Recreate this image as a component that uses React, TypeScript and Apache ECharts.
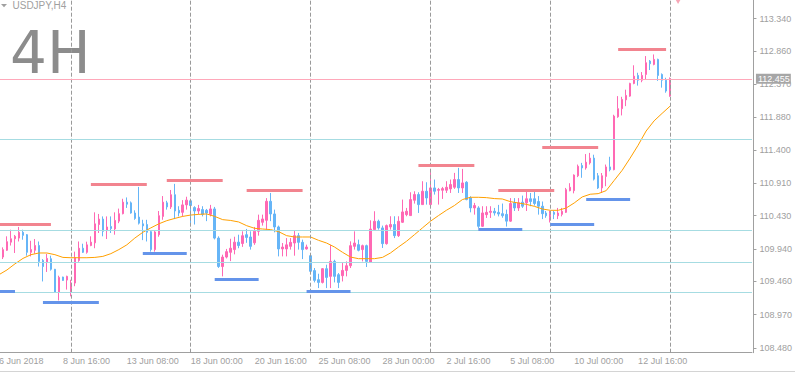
import { useEffect, useRef } from 'react';
import * as echarts from 'echarts';

// ---------- data ----------
const chartTitle = 'USDJPY,H4';
const periodBadge = '4H';
const monthNames = ['Jan', 'Feb', 'Mar', 'Apr', 'May', 'Jun', 'Jul', 'Aug', 'Sep', 'Oct', 'Nov', 'Dec'];
const firstDayUTC = Date.UTC(2018, 5, 6);
const firstYear = 2018;
const barHours = ['00', '04', '08', '12', '16', '20'];
const categoryCount = 189; // bar slots (incl. empty future slots)
const labelStep = 16;

// [open, high, low, close]
const candleOHLC: number[][] = [
  [109.92, 110.0, 109.8, 109.83],
  [109.82, 109.963, 109.791, 109.929],
  [109.92, 110.126, 109.91, 110.047],
  [110.04, 110.224, 109.99, 110.09],
  [110.09, 110.146, 109.88, 110.126],
  [110.1, 110.264, 110.05, 110.185],
  [110.185, 110.224, 110.076, 110.14],
  [110.15, 110.16, 109.84, 109.89],
  [109.89, 110.06, 109.83, 109.93],
  [109.92, 110.086, 109.87, 109.99],
  [109.99, 110.05, 109.68, 109.756],
  [109.77, 109.79, 109.46, 109.68],
  [109.74, 109.865, 109.6, 109.8],
  [109.795, 109.84, 109.62, 109.64],
  [109.64, 109.645, 109.29, 109.3],
  [109.3, 109.545, 109.18, 109.52],
  [109.525, 109.53, 109.47, 109.475],
  [109.48, 109.545, 109.34, 109.535],
  [109.3, 109.485, 109.24, 109.435],
  [109.436, 109.9, 109.39, 109.81],
  [109.77, 110.05, 109.75, 109.95],
  [109.95, 110.017, 109.88, 109.89],
  [109.89, 110.047, 109.87, 110.0],
  [109.99, 110.126, 109.98, 110.04],
  [110.03, 110.48, 109.95, 110.31],
  [110.3, 110.456, 110.175, 110.38],
  [110.38, 110.42, 110.126, 110.2],
  [110.21, 110.42, 110.086, 110.264],
  [110.27, 110.42, 110.175, 110.24],
  [110.235, 110.48, 110.15, 110.36],
  [110.35, 110.535, 110.32, 110.46],
  [110.46, 110.68, 110.45, 110.63],
  [110.63, 110.7, 110.545, 110.6],
  [110.62, 110.64, 110.46, 110.47],
  [110.47, 110.51, 110.37, 110.39],
  [110.41, 110.855, 110.3, 110.32],
  [110.31, 110.37, 110.07, 110.28],
  [110.3, 110.37, 110.05, 110.185],
  [110.195, 110.21, 109.9, 109.93],
  [109.93, 110.21, 109.9, 110.19],
  [110.15, 110.5, 110.12, 110.43],
  [110.42, 110.72, 110.37, 110.63],
  [110.62, 110.65, 110.52, 110.56],
  [110.56, 110.81, 110.53, 110.74],
  [110.74, 110.9, 110.38, 110.5],
  [110.51, 110.57, 110.42, 110.47],
  [110.48, 110.66, 110.42, 110.59],
  [110.59, 110.71, 110.52, 110.66],
  [110.65, 110.66, 110.28, 110.58],
  [110.55, 110.57, 110.3, 110.5],
  [110.5, 110.59, 110.45, 110.535],
  [110.52, 110.57, 110.42, 110.45],
  [110.51, 110.53, 110.35, 110.47],
  [110.45, 110.59, 110.42, 110.53],
  [110.53, 110.56, 110.08, 110.1],
  [110.1, 110.126, 109.66, 109.68],
  [109.68, 109.855, 109.535, 109.82],
  [109.82, 109.94, 109.8, 109.9],
  [109.89, 110.09, 109.76, 109.95],
  [109.93, 110.12, 109.86, 110.04],
  [110.04, 110.15, 109.95, 109.99],
  [110.02, 110.2, 109.97, 110.135],
  [110.15, 110.235, 110.03, 110.11],
  [110.116, 110.2, 109.93, 109.978],
  [110.03, 110.264, 110.0, 110.2],
  [110.2, 110.446, 110.136, 110.362],
  [110.333, 110.446, 110.284, 110.382],
  [110.362, 110.69, 110.225, 110.643],
  [110.643, 110.766, 110.35, 110.456],
  [110.456, 110.52, 110.185, 110.264],
  [110.264, 110.284, 109.83, 109.94],
  [109.94, 110.027, 109.83, 109.968],
  [109.94, 110.1, 109.83, 110.0],
  [109.978, 110.1, 109.93, 110.037],
  [110.027, 110.21, 109.84, 110.136],
  [110.136, 110.176, 109.93, 110.037],
  [110.037, 110.077, 109.79, 109.93],
  [109.94, 110.003, 109.93, 109.968],
  [109.84, 109.88, 109.594, 109.61],
  [109.62, 109.658, 109.446, 109.476],
  [109.486, 109.574, 109.362, 109.446],
  [109.446, 109.658, 109.43, 109.648],
  [109.648, 109.707, 109.362, 109.52],
  [109.535, 110.0, 109.362, 109.756],
  [109.756, 109.78, 109.446, 109.535],
  [109.56, 109.584, 109.362, 109.446],
  [109.545, 109.732, 109.46, 109.623],
  [109.623, 109.756, 109.535, 109.692],
  [109.692, 110.052, 109.658, 109.988],
  [109.978, 110.2, 109.93, 110.027],
  [110.003, 110.077, 109.904, 109.92],
  [109.93, 110.003, 109.756, 109.988],
  [109.988, 110.003, 109.673, 109.756],
  [109.74, 110.362, 109.74, 110.234],
  [110.225, 110.496, 110.22, 110.348],
  [110.348, 110.372, 110.225, 110.25],
  [110.25, 110.284, 109.954, 110.018],
  [110.018, 110.3, 110.003, 110.284],
  [110.264, 110.422, 110.225, 110.3],
  [110.3, 110.422, 110.1, 110.136],
  [110.136, 110.422, 110.116, 110.348],
  [110.333, 110.668, 110.323, 110.486],
  [110.446, 110.545, 110.422, 110.496],
  [110.432, 110.776, 110.432, 110.668],
  [110.658, 110.791, 110.609, 110.742],
  [110.742, 110.776, 110.471, 110.594],
  [110.594, 110.939, 110.594, 110.791],
  [110.791, 110.924, 110.594, 110.692],
  [110.594, 111.072, 110.594, 110.84],
  [110.84, 110.964, 110.742, 110.791],
  [110.806, 110.84, 110.594, 110.816],
  [110.806, 110.855, 110.678, 110.83],
  [110.806, 110.939, 110.766, 110.85],
  [110.826, 110.964, 110.766, 110.89],
  [110.85, 111.062, 110.826, 110.963],
  [110.963, 111.136, 110.766, 110.84],
  [110.84, 111.121, 110.766, 110.914],
  [110.924, 110.939, 110.658, 110.668],
  [110.692, 110.717, 110.48, 110.545],
  [110.545, 110.619, 110.446, 110.58],
  [110.545, 110.57, 110.25, 110.274],
  [110.274, 110.57, 110.264, 110.471],
  [110.446, 110.57, 110.397, 110.48],
  [110.48, 110.57, 110.397, 110.496],
  [110.496, 110.545, 110.432, 110.471],
  [110.48, 110.59, 110.42, 110.455],
  [110.46, 110.61, 110.4, 110.43],
  [110.45, 110.52, 110.27, 110.35],
  [110.35, 110.69, 110.34, 110.61],
  [110.62, 110.69, 110.5, 110.545],
  [110.545, 110.69, 110.5, 110.62],
  [110.63, 110.727, 110.545, 110.57],
  [110.62, 110.79, 110.5, 110.68],
  [110.68, 110.766, 110.57, 110.64],
  [110.68, 110.79, 110.58, 110.61],
  [110.64, 110.72, 110.446, 110.57],
  [110.57, 110.64, 110.38, 110.46],
  [110.47, 110.5, 110.4, 110.43],
  [110.4, 110.5, 110.33, 110.46],
  [110.48, 110.5, 110.38, 110.45],
  [110.43, 110.545, 110.38, 110.47],
  [110.45, 110.545, 110.42, 110.495],
  [110.48, 110.84, 110.47, 110.815],
  [110.8, 110.91, 110.79, 110.85],
  [110.8, 111.04, 110.76, 111.03],
  [111.02, 111.185, 111.0, 111.16],
  [111.17, 111.21, 110.99, 111.135],
  [111.135, 111.34, 111.11, 111.22],
  [111.21, 111.357, 111.185, 111.28],
  [111.28, 111.33, 110.95, 110.97],
  [111.02, 111.06, 110.825, 110.84],
  [110.84, 111.06, 110.766, 111.02],
  [111.01, 111.185, 110.865, 111.15],
  [111.15, 111.3, 111.085, 111.11],
  [111.11, 111.92, 111.1, 111.9],
  [111.89, 112.195, 111.875, 112.01],
  [112.01, 112.185, 111.91, 112.146],
  [112.14, 112.29, 112.047, 112.205],
  [112.195, 112.392, 112.185, 112.382],
  [112.382, 112.65, 112.37, 112.49],
  [112.5, 112.54, 112.35, 112.43],
  [112.43, 112.55, 112.4, 112.5],
  [112.515, 112.786, 112.44, 112.688],
  [112.712, 112.727, 112.58, 112.673],
  [112.663, 112.81, 112.65, 112.737],
  [112.737, 112.747, 112.42, 112.5],
  [112.515, 112.53, 112.32, 112.43],
  [112.43, 112.466, 112.245, 112.27],
  [112.195, 112.47, 112.185, 112.455],
];

// moving average, read at every second bar (bar index = 2 * position)
const maEveryOtherBar = [
  109.56, 109.63, 109.72, 109.8, 109.855, 109.88, 109.88, 109.855, 109.815, 109.81,
  109.81, 109.81, 109.815, 109.83, 109.87, 109.93, 110.0, 110.1, 110.185, 110.25,
  110.31, 110.357, 110.39, 110.42, 110.44, 110.45, 110.456, 110.42, 110.372, 110.36,
  110.338, 110.283, 110.244, 110.234, 110.225, 110.195, 110.136, 110.116, 110.116, 110.116,
  110.067, 110.027, 109.968, 109.89, 109.82, 109.796, 109.796, 109.796, 109.815, 109.88,
  109.968, 110.052, 110.15, 110.25, 110.348, 110.431, 110.51, 110.58, 110.668, 110.702,
  110.702, 110.697, 110.683, 110.677, 110.638, 110.618, 110.598, 110.569, 110.53, 110.51,
  110.51, 110.544, 110.618, 110.707, 110.747, 110.756, 110.8, 110.95, 111.1, 111.28,
  111.47, 111.68, 111.83, 111.94, 112.047,
];

const resistanceStart = [0, 23, 42, 62, 105, 125, 136, 155];
const resistanceEnd = [13, 37, 56, 76, 119, 139, 150, 167];
const resistanceLevel = [110.308, 110.894, 110.953, 110.805, 111.175, 110.806, 111.436, 112.885];

const supportStart = [0, 11, 36, 54, 77, 120, 138, 147];
const supportEnd = [4, 25, 47, 65, 88, 131, 149, 158];
const supportLevel = [109.308, 109.15, 109.874, 109.495, 109.313, 110.225, 110.303, 110.668];

const pivotLevels = [111.555, 110.212, 109.754, 109.296];
const currentPrice = 112.455;
const fractalBar = 170;
const fractalPrice = 113.6;

const yTickValues = [108.48, 108.97, 109.46, 109.94, 110.43, 110.91, 111.4, 111.88, 112.37, 112.86, 113.34];
const yMax = 113.6135;
const yMin = 108.4085;

// ---------- styles / layout ----------
const bullColor = '#ff69b4';
const bearColor = '#66b5f7';
const axisGray = '#a0a0a0';
const font = 'Liberation Sans';
const SHIFT = 4; // chart canvas starts 4px left of the page so the first bar can sit off-screen
const CANVAS_W = 795 + SHIFT;

function buildCategories() {
  const names: string[] = [];
  const weekStarts: string[] = [];
  let t = firstDayUTC;
  while (names.length < categoryCount) {
    const d = new Date(t);
    const wd = d.getUTCDay();
    if (wd !== 0 && wd !== 6) {
      barHours.forEach((h, k) => {
        if (names.length >= categoryCount) return;
        const name = `${d.getUTCDate()} ${monthNames[d.getUTCMonth()]} ${h}:00`;
        if (wd === 1 && k === 0 && names.length < candleOHLC.length) weekStarts.push(name);
        names.push(name);
      });
    }
    t += 86400000;
  }
  return { names, weekStarts };
}

export default function App() {
  const ref = useRef<HTMLDivElement>(null);

  useEffect(() => {
    if (!ref.current) return;
    const chart = echarts.init(ref.current, undefined, { renderer: 'svg' });
    const { names, weekStarts } = buildCategories();

    const maLine: (number | null)[] = names.map(() => null);
    maEveryOtherBar.forEach((v, k) => {
      maLine[k * 2] = v;
    });

    const segment = (s: number, e: number, lvl: number, color: string) => {
      const ls = { color, width: 3, type: 'solid' };
      return [
        { coord: [names[s], lvl], lineStyle: ls },
        { coord: [names[e], lvl], lineStyle: ls },
      ];
    };

    const showLabel = (i: number) => i % labelStep === 0 && i < candleOHLC.length;

    const gridLeft = 0.5;
    const gridWidth = categoryCount * 4;

    const option: any = {
      animation: false,
      backgroundColor: '#ffffff',
      grid: {
        left: gridLeft,
        right: CANVAS_W - gridLeft - gridWidth,
        top: 0,
        bottom: 20.3,
        containLabel: false,
      },
      xAxis: {
        type: 'category',
        data: names,
        boundaryGap: true,
        axisLine: { lineStyle: { color: axisGray, width: 1 } },
        axisTick: { alignWithLabel: true, length: 3, interval: showLabel, lineStyle: { color: axisGray } },
        axisLabel: {
          interval: showLabel,
          align: 'left',
          margin: 4,
          color: axisGray,
          fontSize: 9,
          fontFamily: font,
          formatter: (v: string, i: number) => (i === 0 ? v.replace(/ \d\d:00$/, ` ${firstYear}`) : v),
        },
        splitLine: { show: false },
      },
      yAxis: {
        type: 'value',
        position: 'right',
        offset: 1.5,
        min: yMin,
        max: yMax,
        axisLine: { show: true, lineStyle: { color: axisGray, width: 1 } },
        axisTick: { show: true, length: 3, customValues: yTickValues, lineStyle: { color: axisGray } },
        axisLabel: {
          customValues: yTickValues,
          formatter: (v: number) => v.toFixed(3),
          margin: 6,
          color: axisGray,
          fontSize: 9,
          fontFamily: font,
        },
        splitLine: { show: false },
      },
      graphic: [
        {
          type: 'polygon',
          shape: { points: [[1 + SHIFT, 4], [7 + SHIFT, 4], [4 + SHIFT, 7.3]] },
          style: { fill: axisGray },
        },
        {
          type: 'text', x: 12.5 + SHIFT, y: 5.5,
          style: { text: chartTitle, fill: axisGray, fontSize: 10, fontFamily: font, verticalAlign: 'middle' },
        },
        {
          type: 'text', x: 10 + SHIFT, y: 53,
          style: {
            text: periodBadge, fill: '#8c8c8c', fontSize: 58,
            fontFamily: 'DejaVu Sans', verticalAlign: 'middle',
          },
        },
        {
          type: 'line',
          shape: { x1: 0, y1: 371.5, x2: CANVAS_W, y2: 371.5 },
          style: { stroke: '#d4d4d4', lineWidth: 1 },
        },
      ],
      series: [
        {
          type: 'candlestick',
          name: chartTitle,
          data: candleOHLC.map(([o, h, l, c]) => [o, c, l, h]),
          barWidth: 2,
          itemStyle: {
            color: bullColor,
            color0: bearColor,
            borderColor: bullColor,
            borderColor0: bearColor,
            borderWidth: 1,
          },
          markLine: {
            silent: true,
            symbol: ['none', 'none'],
            animation: false,
            label: { show: false },
            data: [
              ...weekStarts.map((n) => ({ xAxis: n, lineStyle: { color: '#9a9a9a', type: [4, 2], width: 1 } })),
              ...pivotLevels.map((v) => ({ yAxis: v, lineStyle: { color: '#a6dce2', type: 'solid', width: 1 } })),
              {
                yAxis: currentPrice,
                lineStyle: { color: '#ffa8ba', type: 'solid', width: 1, opacity: 1 },
                label: {
                  show: true,
                  position: 'end',
                  distance: 4,
                  formatter: currentPrice.toFixed(3),
                  color: '#ffffff',
                  backgroundColor: '#a6a6a6',
                  padding: [1, 1, 0, 2],
                  fontSize: 9,
                  fontFamily: font,
                },
              },
              ...resistanceLevel.map((lvl, k) => segment(resistanceStart[k], resistanceEnd[k], lvl, '#f2848f')),
              ...supportLevel.map((lvl, k) => segment(supportStart[k], supportEnd[k], lvl, '#6494ea')),
            ],
          },
          markPoint: {
            silent: true,
            symbol: 'triangle',
            symbolRotate: 180,
            symbolSize: [7, 6],
            label: { show: false },
            itemStyle: { color: '#f7a6b6' },
            data: [{ coord: [names[fractalBar], fractalPrice] }],
          },
        },
        {
          type: 'line',
          name: 'MA',
          data: maLine,
          connectNulls: true,
          symbol: 'none',
          silent: true,
          z: 3,
          lineStyle: { color: '#ffa000', width: 1 },
        },
      ],
    };

    chart.setOption(option);
    return () => chart.dispose();
  }, []);

  return (
    <div
      ref={ref}
      style={{ position: 'fixed', left: -SHIFT, top: 0, width: CANVAS_W, height: 373, background: '#ffffff' }}
    />
  );
}
